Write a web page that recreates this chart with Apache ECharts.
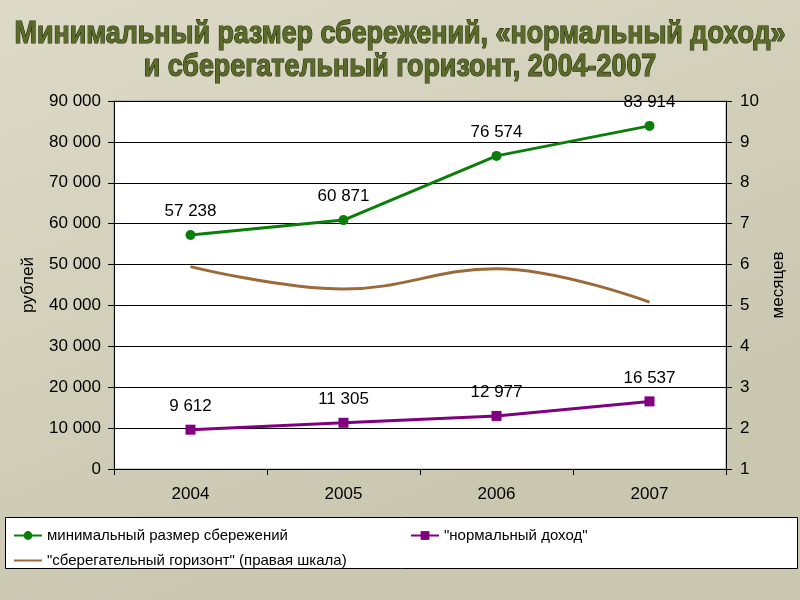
<!DOCTYPE html>
<html><head><meta charset="utf-8">
<script src="https://cdn.jsdelivr.net/npm/echarts@6/dist/echarts.min.js"></script>
<style>html,body{margin:0;padding:0;}#c{width:800px;height:600px;}</style>
</head><body><div id="c"></div>
<script>
var categories = ['2004', '2005', '2006', '2007'];
var minSavings = [57238, 60871, 76574, 83914];
var normalIncome = [9612, 11305, 12977, 16537];
var savingsHorizon = [5.95, 5.4, 5.9, 5.08];
var leftTicks = [0, 10000, 20000, 30000, 40000, 50000, 60000, 70000, 80000, 90000];
var rightTicks = [1, 2, 3, 4, 5, 6, 7, 8, 9, 10];
var seriesNames = ['минимальный размер сбережений', '"нормальный доход"', '"сберегательный горизонт" (правая шкала)'];
var titleLines = ['Минимальный размер сбережений, «нормальный доход»', 'и сберегательный горизонт, 2004-2007'];

function fmt(v){ return String(v).replace(/\B(?=(\d{3})+(?!\d))/g, ' '); }
var font = 'Liberation Sans, Arial, sans-serif';
var titleFont = 'bold 32px "Liberation Sans", Arial, sans-serif';
var cv = document.createElement('canvas').getContext('2d');
cv.font = titleFont;
var w1 = cv.measureText(titleLines[0]).width;
var sx = 771 / w1;
function titleText(txt, y){
  return {type:'text', x: 400, y: y, scaleX: sx, scaleY: 1, z: 10,
    style:{text: txt, font: titleFont, fill:'#5a6a28', stroke:'#222b08', lineWidth: 1.2,
      textAlign:'center', textVerticalAlign:'middle',
      shadowColor:'rgba(0,0,0,0.4)', shadowBlur: 2, shadowOffsetX: 1.5, shadowOffsetY: 2}};
}
var chart = echarts.init(document.getElementById('c'));
chart.setOption({
  backgroundColor: {type:'linear', x:0, y:0, x2:0.3, y2:1, colorStops:[{offset:0,color:'#dddbc8'},{offset:1,color:'#c9c7b0'}]},
  animation: false,
  graphic: [
    {type:'rect', left: 5, top: 517, shape:{width: 792, height: 51}, style:{fill:'#fff', stroke:'#000', lineWidth:1}, z: -1},
    titleText(titleLines[0], 34),
    titleText(titleLines[1], 67)
  ],
  legend: [
    {data:[seriesNames[0]], left: 8, top: 523, itemWidth: 28, itemHeight: 11, textStyle:{fontFamily: font, fontSize: 15, color:'#000'}},
    {data:[seriesNames[1]], left: 405, top: 523, itemWidth: 28, itemHeight: 11, textStyle:{fontFamily: font, fontSize: 15, color:'#000'}},
    {data:[{name: seriesNames[2], itemStyle:{opacity: 0}}], left: 8, top: 548, itemWidth: 28, itemHeight: 11, textStyle:{fontFamily: font, fontSize: 15, color:'#000'}}
  ],
  grid: {left: 114, right: 74, top: 101, bottom: 131, show: true, backgroundColor: '#fff', borderColor: '#999', borderWidth: 1},
  xAxis: {type:'category', data: categories, boundaryGap: true,
    axisLine:{lineStyle:{color:'#000'}}, axisTick:{show:true, length:6, lineStyle:{color:'#000'}},
    axisLabel:{fontFamily: font, fontSize: 17, color:'#000', margin: 17}},
  yAxis: [
    {type:'value', min: leftTicks[0], max: leftTicks[leftTicks.length-1], interval: 10000,
     name: 'рублей', nameLocation: 'middle', nameGap: 77, nameTextStyle:{fontFamily: font, fontSize: 17, color:'#000'},
     axisLine:{show:true, lineStyle:{color:'#000'}}, axisTick:{show:true, length:6, lineStyle:{color:'#000'}},
     axisLabel:{fontFamily: font, fontSize: 17, color:'#000', margin: 13, formatter: function(v){return fmt(v);}},
     splitLine:{show:true, lineStyle:{color:'#000', width:1}}},
    {type:'value', min: rightTicks[0], max: rightTicks[rightTicks.length-1], interval: 1, position:'right',
     name: 'месяцев', nameLocation: 'middle', nameGap: 44, nameRotate: 90, nameTextStyle:{fontFamily: font, fontSize: 17, color:'#000'},
     axisLine:{show:true, lineStyle:{color:'#000'}}, axisTick:{show:true, length:6, lineStyle:{color:'#000'}},
     axisLabel:{fontFamily: font, fontSize: 17, color:'#000', margin: 14},
     splitLine:{show:false}}
  ],
  series: [
    {name: seriesNames[0], type:'line', data: minSavings, yAxisIndex: 0, symbol:'circle', symbolSize: 10,
     itemStyle:{color:'#0b7d0b'}, lineStyle:{color:'#0b7d0b', width:3},
     label:{show:true, position:'top', distance: 10, fontFamily: font, fontSize: 17, color:'#000', formatter: function(p){return fmt(p.value);}}},
    {name: seriesNames[1], type:'line', data: normalIncome, yAxisIndex: 0, symbol:'rect', symbolSize: 10,
     itemStyle:{color:'#800080'}, lineStyle:{color:'#800080', width:3},
     label:{show:true, position:'top', distance: 10, fontFamily: font, fontSize: 17, color:'#000', formatter: function(p){return fmt(p.value);}}},
    {name: seriesNames[2], type:'line', data: savingsHorizon, yAxisIndex: 1, symbol:'none', smooth: 0.4,
     itemStyle:{color:'#9a6a3a'}, lineStyle:{color:'#9a6a3a', width:3}}
  ]
});
</script></body></html>
